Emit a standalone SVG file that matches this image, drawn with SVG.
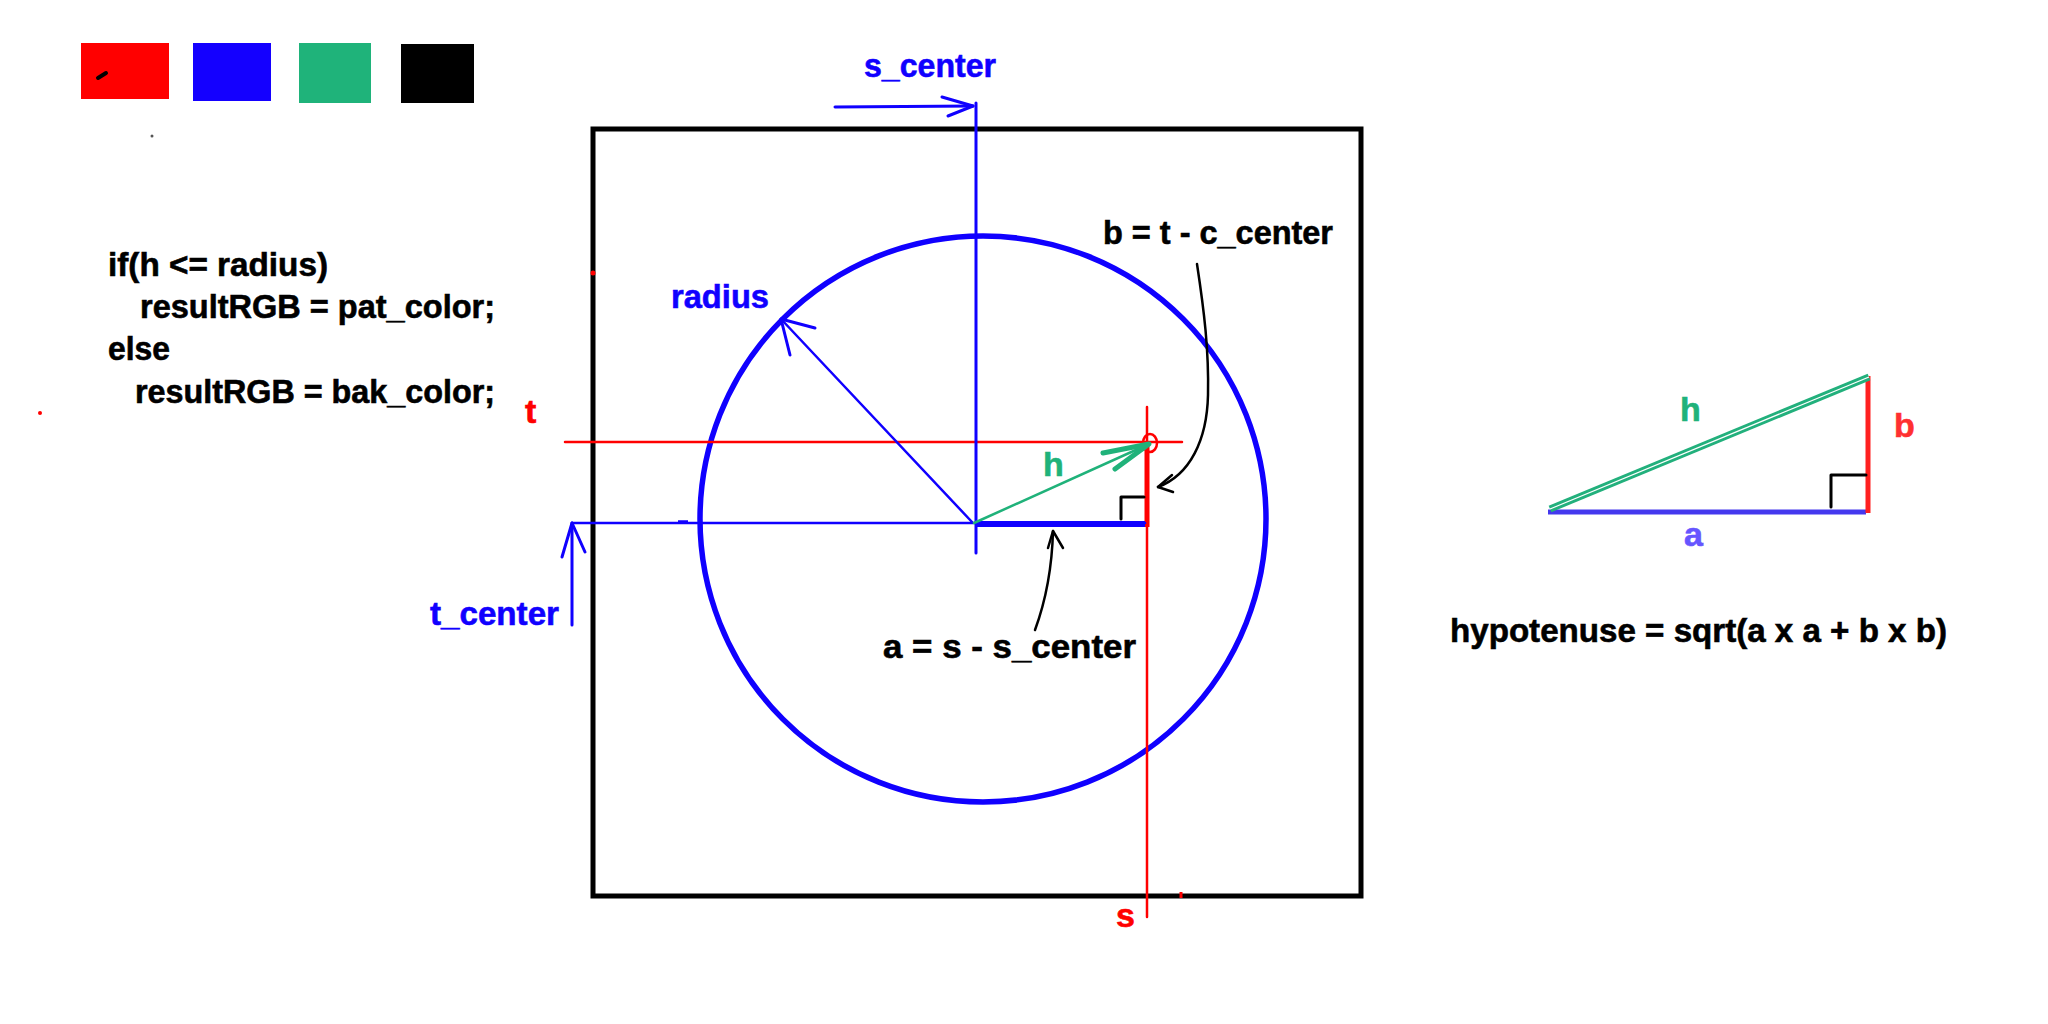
<svg xmlns="http://www.w3.org/2000/svg" width="2048" height="1024" viewBox="0 0 2048 1024">
<style>
.t{font-family:"Liberation Sans",Arial,sans-serif;font-weight:bold;stroke-width:0.6;}
.bk{fill:#000;stroke:#000;}
.bl{fill:#1000ff;stroke:#1000ff;}
.rd{fill:#ff0000;stroke:#ff0000;}
.gr{fill:#20b27a;stroke:#20b27a;}
.ln{fill:none;stroke-linecap:round;stroke-linejoin:round;}
</style>
<rect width="2048" height="1024" fill="#fff"/>
<g id="palette">
<rect x="81" y="43" width="88" height="56" fill="#ff0000"/>
<rect x="193" y="43" width="78" height="58" fill="#1400ff"/>
<rect x="299" y="43" width="72" height="60" fill="#1fb37a"/>
<rect x="401" y="44" width="73" height="59" fill="#000"/>
<path d="M98,78 L106,73" stroke="#000" stroke-width="4" stroke-linecap="round"/>
<circle cx="152" cy="136" r="1.5" fill="#555"/>
<circle cx="40" cy="413" r="2" fill="#ff0000"/>
</g>
<g id="code">
<text class="t bk" x="108" y="276" font-size="33" textLength="220" lengthAdjust="spacingAndGlyphs">if(h &lt;= radius)</text>
<text class="t bk" x="140" y="318" font-size="33" textLength="355" lengthAdjust="spacingAndGlyphs">resultRGB = pat_color;</text>
<text class="t bk" x="108" y="360" font-size="33" textLength="62" lengthAdjust="spacingAndGlyphs">else</text>
<text class="t bk" x="135" y="403" font-size="33" textLength="360" lengthAdjust="spacingAndGlyphs">resultRGB = bak_color;</text>
</g>
<g id="frame">
<rect x="593" y="129" width="768" height="767" fill="none" stroke="#000" stroke-width="5"/>
<circle cx="593" cy="273" r="2.5" fill="#ff0000"/>
<path d="M1181,892 V898" stroke="#ff0000" stroke-width="3"/>
</g>
<g id="circle">
<circle cx="983" cy="519" r="283" fill="none" stroke="#1000ff" stroke-width="5.5"/>
</g>
<g id="connectors">
<path class="ln" d="M565,442 H1182" stroke="#ff0000" stroke-width="2.5"/>
<path class="ln" d="M1147,407 V917" stroke="#ff0000" stroke-width="2.5"/>
<path d="M1147,442 V527" stroke="#ff0000" stroke-width="5"/>
<ellipse cx="1150" cy="443" rx="7" ry="9" fill="none" stroke="#ff0000" stroke-width="2.5"/>
<path class="ln" d="M572,523 H1145" stroke="#1000ff" stroke-width="2.5"/>
<path d="M678,522 H688" stroke="#1000ff" stroke-width="3.5"/>
<path d="M975,524 H1145" stroke="#1000ff" stroke-width="6"/>
<path class="ln" d="M976,103 V553" stroke="#1000ff" stroke-width="3"/>
<path class="ln" d="M835,107 L973,106" stroke="#1000ff" stroke-width="3"/>
<path class="ln" d="M942,97 L973,106 L948,116" stroke="#1000ff" stroke-width="3"/>
<path class="ln" d="M572,625 V523" stroke="#1000ff" stroke-width="3"/>
<path class="ln" d="M562,557 L572,523 L585,552" stroke="#1000ff" stroke-width="3"/>
<path class="ln" d="M972,522 L781,319" stroke="#1000ff" stroke-width="2.5"/>
<path class="ln" d="M815,328 L781,319 L790,355" stroke="#1000ff" stroke-width="3"/>
<path class="ln" d="M974,523 L1149,444" stroke="#20b27a" stroke-width="2.5"/>
<path class="ln" d="M1103,453 L1149,444 L1115,469" stroke="#20b27a" stroke-width="5"/>
<path class="ln" d="M1121,519 V497 H1144" stroke="#000" stroke-width="3"/>
<path class="ln" d="M1197,264 C1204,310 1209,350 1208,395 C1207,440 1190,475 1158,487" stroke="#000" stroke-width="2.5"/>
<path class="ln" d="M1172,475 L1158,487 L1173,492" stroke="#000" stroke-width="2.5"/>
<path class="ln" d="M1035,630 C1046,600 1052,570 1053,531" stroke="#000" stroke-width="2.5"/>
<path class="ln" d="M1048,548 L1053,531 L1063,548" stroke="#000" stroke-width="2.5"/>
</g>
<g id="labels">
<text class="t bl" x="864" y="77" font-size="34" textLength="132" lengthAdjust="spacingAndGlyphs">s_center</text>
<text class="t bl" x="671" y="308" font-size="34" textLength="98" lengthAdjust="spacingAndGlyphs">radius</text>
<text class="t rd" x="525" y="423" font-size="34">t</text>
<text class="t bl" x="430" y="625" font-size="34" textLength="129" lengthAdjust="spacingAndGlyphs">t_center</text>
<text class="t gr" x="1043" y="476" font-size="34">h</text>
<text class="t bk" x="1103" y="244" font-size="34" textLength="230" lengthAdjust="spacingAndGlyphs">b = t - c_center</text>
<text class="t bk" x="883" y="658" font-size="34" textLength="253" lengthAdjust="spacingAndGlyphs">a = s - s_center</text>
<text class="t rd" x="1116" y="927" font-size="34">s</text>
</g>
<g id="triangle">
<path d="M1548,512 H1866" stroke="#4438ee" stroke-width="5"/>
<path d="M1868,376 V513" stroke="#ff2020" stroke-width="5"/>
<path d="M1550,509 L1869,377" stroke="#22b07c" stroke-width="7"/>
<path d="M1550,509 L1869,377" stroke="#ffffff" stroke-width="1.3"/>
<path class="ln" d="M1831,507 V475 H1866" stroke="#000" stroke-width="3"/>
<text class="t gr" x="1680" y="421" font-size="34">h</text>
<text class="t" x="1894" y="437" font-size="34" fill="#ff3030" stroke="#ff3030">b</text>
<text class="t" x="1684" y="546" font-size="34" fill="#6655ff" stroke="#6655ff">a</text>
<text class="t bk" x="1450" y="642" font-size="34" textLength="497" lengthAdjust="spacingAndGlyphs">hypotenuse = sqrt(a x a + b x b)</text>
</g>
</svg>
